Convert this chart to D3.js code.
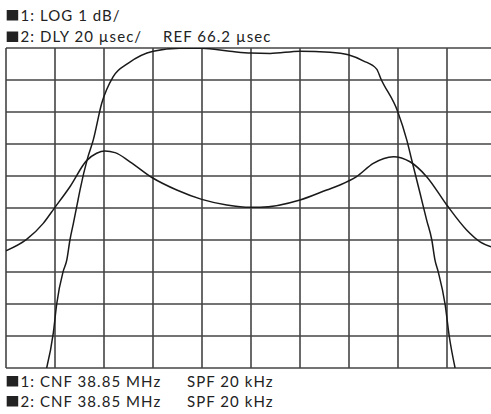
<!DOCTYPE html>
<html>
<head>
<meta charset="utf-8">
<script src="https://cdn.jsdelivr.net/npm/d3@7"></script>
<style>
  html, body { margin: 0; padding: 0; background: #fff; }
  svg { display: block; }
  text { font-family: Lato, "Noto Sans", sans-serif; font-size: 15px; letter-spacing: 1.05px; fill: #222; }
</style>
</head>
<body>
<svg id="chart" width="491" height="414"></svg>
<script>
// Frequency offset from centre (kHz), span 20 kHz => 2 kHz/div
const freqDomain = [-10, 10];
// Trace 1: amplitude, LOG 1 dB/div, top line = 0 dB
const ampFreq = [-8.34, -8.07, -7.93, -7.67, -7.52, -7.39, -7.25, -7.06, -6.98, -6.67, -6.44, -6.09, -5.63, -5.02, -3.99, -2.90, -2.01, -0.86, -0.01, 0.78, 2.00, 3.22, 3.97, 4.58, 5.13, 5.30, 5.99, 6.36, 6.56, 6.90, 7.17, 7.38, 7.51, 7.64, 7.92, 8.09, 8.33];
const ampDb   = [-10.0, -8.91, -8.0, -6.99, -6.63, -6.0, -5.48, -4.75, -4.44, -3.44, -2.88, -1.72, -0.90, -0.48, -0.10, -0.01, -0.01, -0.10, -0.16, -0.17, -0.10, -0.13, -0.21, -0.40, -0.66, -0.96, -1.99, -2.88, -3.50, -4.54, -5.38, -6.0, -6.63, -6.99, -8.0, -9.0, -10.0];
// Trace 2: group delay, 20 usec/div, REF 66.2 usec at centre line
const dlyFreq = [-10.0, -9.16, -8.48, -8.03, -7.39, -6.71, -6.30, -5.96, -5.55, -4.94, -4.01, -3.03, -2.01, -0.99, -0.04, 0.37, 2.00, 3.09, 3.63, 4.31, 4.99, 5.81, 6.49, 7.17, 7.99, 8.80, 9.35, 9.80];
const dlyUs   = [39.5, 46.6, 56.6, 66.0, 79.5, 95.8, 100.4, 101.8, 100.8, 95.1, 84.95, 77.45, 71.6, 68.1, 66.6, 66.6, 71.2, 77.45, 80.6, 85.8, 94.1, 98.3, 95.1, 85.8, 68.1, 52.5, 45.1, 42.0];
const refDelay = 66.2;
const topLabels = ["1: LOG 1 dB/", "2: DLY 20 µsec/"];
const refLabel = "REF 66.2 µsec";
const bottomLabels = ["1: CNF 38.85 MHz", "2: CNF 38.85 MHz"];
const spanLabels = ["SPF 20 kHz", "SPF 20 kHz"];

const svg = d3.select("#chart");
const pLeft = 6, pTop = 48, divW = 49, divH = 32, nDiv = 10;
const x = d3.scaleLinear().domain(freqDomain).range([pLeft, pLeft + divW * nDiv]);
const yAmp = d3.scaleLinear().domain([0, -10]).range([pTop, pTop + divH * nDiv]);
const yDly = d3.scaleLinear().domain([refDelay + 100, refDelay - 100]).range([pTop, pTop + divH * nDiv]);

// clip
svg.append("clipPath").attr("id", "clip").append("rect")
  .attr("x", pLeft).attr("y", pTop).attr("width", divW * nDiv).attr("height", divH * nDiv);

// grid
const grid = svg.append("g");
const xt = d3.range(-10, 10.01, 2);
const yt = d3.range(0, -10.01, -1);
grid.selectAll("line.v").data(xt).join("line")
  .attr("x1", d => x(d)).attr("x2", d => x(d))
  .attr("y1", pTop).attr("y2", pTop + divH * nDiv)
  .attr("stroke", "#444").attr("stroke-width", 1.6);
grid.selectAll("line.h").data(yt).join("line")
  .attr("y1", d => yAmp(d)).attr("y2", d => yAmp(d))
  .attr("x1", pLeft).attr("x2", pLeft + divW * nDiv)
  .attr("stroke", "#444").attr("stroke-width", 1.6);

const plot = svg.append("g").attr("clip-path", "url(#clip)");
const ampLine = d3.line().x(d => x(d[0])).y(d => yAmp(d[1])).curve(d3.curveMonotoneX);
const dlyLine = d3.line().x(d => x(d[0])).y(d => yDly(d[1])).curve(d3.curveMonotoneX);
plot.append("path").datum(ampFreq.map((f, i) => [f, ampDb[i]]))
  .attr("d", ampLine).attr("fill", "none").attr("stroke", "#1a1a1a").attr("stroke-width", 1.5);
plot.append("path").datum(dlyFreq.map((f, i) => [f, dlyUs[i]]))
  .attr("d", dlyLine).attr("fill", "none").attr("stroke", "#1a1a1a").attr("stroke-width", 1.5);

// labels
function label(yBase, txt) {
  svg.append("rect").attr("x", 6.7).attr("y", yBase - 10.5).attr("width", 11.5).attr("height", 10.5).attr("fill", "#222");
  svg.append("text").attr("x", 20.5).attr("y", yBase).text(txt);
}
label(20.5, topLabels[0]);
label(42, topLabels[1]);
svg.append("text").attr("x", 163).attr("y", 42).text(refLabel);
label(386.5, bottomLabels[0]);
label(406.5, bottomLabels[1]);
svg.append("text").attr("x", 187).attr("y", 386.5).text(spanLabels[0]);
svg.append("text").attr("x", 187).attr("y", 406.5).text(spanLabels[1]);
</script>
</body>
</html>
